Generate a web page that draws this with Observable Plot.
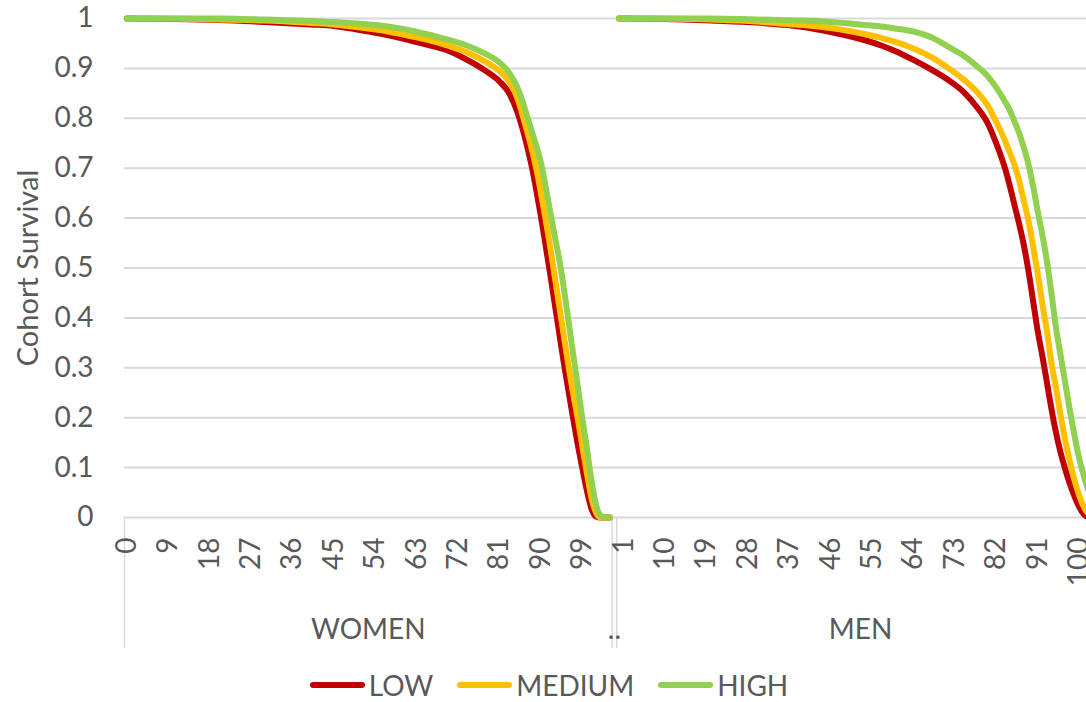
<!DOCTYPE html>
<html>
<head>
<meta charset="utf-8">
<script src="https://cdn.jsdelivr.net/npm/d3@7"></script>
<script src="https://cdn.jsdelivr.net/npm/@observablehq/plot@0.6"></script>
<style>
  body { margin: 0; background: #fff; font-family: Lato, sans-serif; }
  #legend { display: flex; justify-content: center; align-items: center; height: 34px; font-size: 28px; line-height: 34px; color: #595959; padding-left: 12px; }
  .item { display: flex; align-items: center; margin: 0 12px; }
  .swatch { width: 55px; height: 6px; border-radius: 3px; margin-right: 4px; }
</style>
</head>
<body>
<div id="chart"></div>
<div id="legend"></div>
<script>
// Cohort survival by education level, women and men
const series = ["LOW", "MEDIUM", "HIGH"];
const seriesColors = ["#C00000", "#FFC000", "#92D050"];
const groups = ["WOMEN", "MEN"];

// Ages 0..105 per group; the men block follows one empty slot
const groupStart = { WOMEN: 0, MEN: 107 };
const groupLength = 106;

// Tick labels shown every 9 categories
const womenTickAges = [0, 9, 18, 27, 36, 45, 54, 63, 72, 81, 90, 99];
const menTickAges = [1, 10, 19, 28, 37, 46, 55, 64, 73, 82, 91, 100];
const yTicks = [0, 0.1, 0.2, 0.3, 0.4, 0.5, 0.6, 0.7, 0.8, 0.9, 1];

// Women
const womenAges = [0, 10, 20, 30, 40, 45, 50, 55, 60, 65, 70, 75, 78, 81, 83, 85, 86, 87, 88, 89,
  90, 91, 92, 93, 94, 95, 96, 97, 98, 99, 100, 101, 102, 103, 104, 105];
const womenLow = [1, 0.999, 0.997, 0.993, 0.988, 0.985, 0.978, 0.970, 0.960, 0.948,
  0.935, 0.912, 0.895, 0.874, 0.852, 0.81, 0.78, 0.745, 0.705, 0.657,
  0.605, 0.548, 0.49, 0.43, 0.37, 0.31, 0.255, 0.2, 0.148, 0.1,
  0.055, 0.018, 0.002, 0, 0, 0];
const womenMedium = [1, 1, 0.998, 0.996, 0.991, 0.988, 0.983, 0.977, 0.968, 0.958,
  0.945, 0.928, 0.913, 0.895, 0.875, 0.838, 0.808, 0.775, 0.74, 0.70,
  0.652, 0.60, 0.545, 0.485, 0.425, 0.365, 0.305, 0.25, 0.2, 0.145,
  0.09, 0.04, 0.01, 0, 0, 0];
const womenHigh = [1, 1, 1, 0.998, 0.995, 0.993, 0.990, 0.986, 0.979, 0.969,
  0.957, 0.942, 0.929, 0.912, 0.893, 0.86, 0.835, 0.805, 0.775, 0.745,
  0.712, 0.665, 0.615, 0.565, 0.518, 0.46, 0.395, 0.33, 0.265, 0.2,
  0.14, 0.075, 0.025, 0.004, 0, 0];

// Men
const menAges = [0, 10, 20, 30, 35, 40, 46, 50, 57, 60, 64, 68, 72, 75, 78, 80, 82, 84, 85, 86,
  87, 88, 89, 90, 91, 92, 93, 94, 95, 96, 97, 98, 99, 100, 101, 102, 103, 104, 105];
const menLow = [1, 0.999, 0.996, 0.992, 0.988, 0.983, 0.973, 0.965, 0.946, 0.935,
  0.917, 0.897, 0.874, 0.852, 0.82, 0.793, 0.75, 0.697, 0.663, 0.625,
  0.588, 0.546, 0.495, 0.435, 0.375, 0.325, 0.272, 0.218, 0.17, 0.13,
  0.097, 0.068, 0.043, 0.022, 0.007, 0.001, 0, 0, 0];
const menMedium = [1, 1, 0.998, 0.994, 0.990, 0.987, 0.981, 0.975, 0.961, 0.953,
  0.940, 0.922, 0.898, 0.877, 0.851, 0.828, 0.793, 0.753, 0.73, 0.706,
  0.675, 0.635, 0.595, 0.545, 0.49, 0.43, 0.375, 0.31, 0.26, 0.205,
  0.155, 0.112, 0.075, 0.045, 0.022, 0.008, 0, 0, 0];
const menHigh = [1, 1, 1, 0.998, 0.997, 0.996, 0.993, 0.990, 0.984, 0.980,
  0.974, 0.962, 0.941, 0.925, 0.903, 0.886, 0.862, 0.832, 0.815, 0.793,
  0.77, 0.741, 0.708, 0.665, 0.615, 0.568, 0.515, 0.45, 0.38, 0.325,
  0.27, 0.215, 0.165, 0.12, 0.085, 0.055, 0.03, 0.01, 0];

const source = {
  WOMEN: { ages: womenAges, LOW: womenLow, MEDIUM: womenMedium, HIGH: womenHigh },
  MEN: { ages: menAges, LOW: menLow, MEDIUM: menMedium, HIGH: menHigh }
};

// Long table: one row per (group, series, age), positioned by category index
const rows = [];
for (const s of series) {
  for (const g of groups) {
    source[g].ages.forEach((age, k) => {
      rows.push({ group: g, series: s, i: groupStart[g] + age, v: source[g][s][k] });
    });
  }
}

const tickLabels = new Map([
  ...womenTickAges.map(a => [groupStart.WOMEN + a, String(a)]),
  ...menTickAges.map(a => [groupStart.MEN + a, String(a)])
]);
const separators = [-0.5, groupStart.WOMEN + groupLength - 0.5, groupStart.MEN - 0.5];

const chart = Plot.plot({
  width: 1086,
  height: 668,
  marginTop: 18,
  marginBottom: 151,
  marginLeft: 124,
  marginRight: 0,
  style: { fontFamily: "Lato, sans-serif", fontSize: "28px", color: "#595959", background: "#fff" },
  x: { domain: [-0.5, 208.63], axis: null },
  y: { domain: [0, 1], axis: null },
  color: { domain: series, range: seriesColors },
  marks: [
    Plot.gridY(yTicks, { stroke: "#d9d9d9", strokeOpacity: 1, strokeWidth: 2 }),
    Plot.axisY(yTicks, { label: null, tickSize: 0, tickPadding: 31, tickFormat: d => d3.format("~g")(d), fontSize: 28 }),
    Plot.axisX(separators, { label: null, tickSize: 131, tickFormat: () => "", stroke: "#d9d9d9", strokeWidth: 1.5 }),
    Plot.axisX([...tickLabels.keys()], { label: null, tickSize: 0, tickPadding: 20, tickRotate: -90, tickFormat: i => tickLabels.get(i), fontSize: 28 }),
    Plot.text(groups, { x: g => groupStart[g] + (groupLength - 1) / 2, text: d => d, frameAnchor: "bottom", dy: 121, fontSize: 28, fill: "#595959" }),
    Plot.text([".."], { x: groupStart.MEN - 1, text: d => d, frameAnchor: "bottom", dy: 121, fontSize: 28, fill: "#595959" }),
    Plot.text(["Cohort Survival"], { frameAnchor: "left", textAnchor: "middle", dx: -96, rotate: -90, text: d => d, fontSize: 29, fill: "#595959" }),
    Plot.line(rows, {
      x: "i", y: "v", z: d => d.group + "-" + d.series, stroke: "series",
      strokeWidth: 6, curve: "monotone-x", strokeLinecap: "round", strokeLinejoin: "round"
    })
  ]
});
document.getElementById("chart").append(chart);

// Legend row under the plot
const legend = d3.select("#legend");
series.forEach((s, k) => {
  const item = legend.append("div").attr("class", "item");
  item.append("div").attr("class", "swatch").style("background", seriesColors[k]);
  item.append("span").text(s);
});
</script>
</body>
</html>
